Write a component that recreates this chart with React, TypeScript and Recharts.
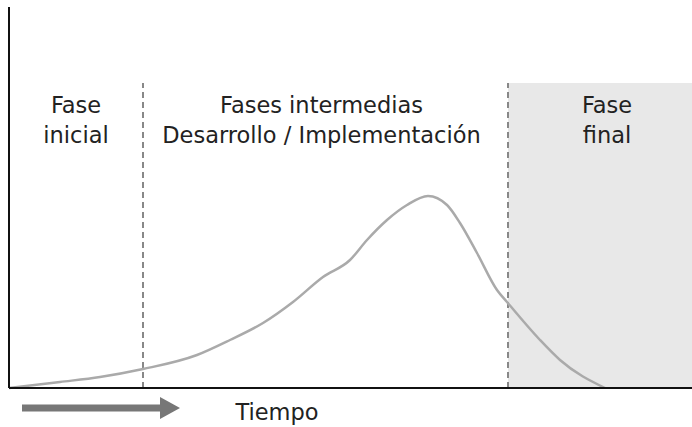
import { LineChart, Line, XAxis, YAxis, ReferenceArea, ReferenceLine } from "recharts";

// time (px-ish units from the y axis) and curve height
const tiempo = [0, 51, 91, 134, 188, 221, 254, 284, 314, 341, 358, 378, 398, 419, 438, 451, 468, 488, 498, 531, 551, 596];
const intensidad = [0, 6, 11, 19, 33, 48, 65, 86, 111, 128, 148, 168, 183, 192, 183, 165, 135, 98, 86, 48, 28, 0];

// phase boundaries and labels
const fases = [
  { desde: 0, hasta: 134, lineas: ["Fase", "inicial"], sombra: false },
  { desde: 134, hasta: 499, lineas: ["Fases intermedias", "Desarrollo / Implementación"], sombra: false },
  { desde: 499, hasta: 683, lineas: ["Fase", "final"], sombra: true },
];
const limites = [134, 499];
const alturaFases = 305;
const ejeX = "Tiempo";

const data = tiempo.map((t, i) => ({ t, v: intensidad[i] }));

const FONT = "'DejaVu Sans', sans-serif";
const SIZE = 22.5;

function PhaseLabel({ viewBox, lineas, dx = 0 }: any) {
  const cx = viewBox.x + viewBox.width / 2 + dx;
  const top = viewBox.y;
  return (
    <text x={cx} y={top} textAnchor="middle" fontFamily={FONT} fontSize={SIZE} fill="#222">
      {lineas.map((l: string, i: number) => (
        <tspan key={i} x={cx} y={top + 30 + i * 30}>{l}</tspan>
      ))}
    </text>
  );
}

function TimeLabel({ viewBox }: any) {
  const x0 = viewBox.x + 13;
  const y0 = viewBox.y + 20;
  return (
    <g>
      <path
        d={`M${x0},${y0 - 3.5} L${x0 + 138},${y0 - 3.5} L${x0 + 138},${y0 - 11} L${x0 + 158},${y0} L${x0 + 138},${y0 + 11} L${x0 + 138},${y0 + 3.5} L${x0},${y0 + 3.5} Z`}
        fill="#777"
      />
      <text x={x0 + 255} y={y0 + 12} textAnchor="middle" fontFamily={FONT} fontSize={SIZE} fill="#222">
        {ejeX}
      </text>
    </g>
  );
}

export default function App() {
  return (
    <div style={{ position: "absolute", left: 0, top: 0, width: 692, height: 427, background: "#fff" }}>
      <LineChart width={692} height={427} data={data} margin={{ top: 7, right: 0, left: 9, bottom: 39 }}>
        <XAxis dataKey="t" type="number" domain={[0, 683]} hide />
        <YAxis type="number" domain={[0, 381]} hide />
        {fases.map((f, i) => (
          <ReferenceArea
            key={i}
            x1={f.desde}
            x2={f.hasta}
            y1={0}
            y2={alturaFases}
            fill={f.sombra ? "#e8e8e8" : "none"}
            fillOpacity={1}
            stroke="none"
            label={<PhaseLabel lineas={f.lineas} dx={i === 1 ? -4 : i === 2 ? 7 : 0} />}
          />
        ))}
        {limites.map((x) => (
          <ReferenceLine
            key={x}
            segment={[{ x, y: 0 }, { x, y: alturaFases }]}
            stroke="#888"
            strokeWidth={2}
            strokeDasharray="6 4"
          />
        ))}
        <Line type="monotone" dataKey="v" stroke="#aaa" strokeWidth={2.5} dot={false} isAnimationActive={false} />
        <ReferenceLine x={0} stroke="#111" strokeWidth={2} />
        <ReferenceLine y={0} stroke="#111" strokeWidth={2} label={<TimeLabel />} />
      </LineChart>
    </div>
  );
}
